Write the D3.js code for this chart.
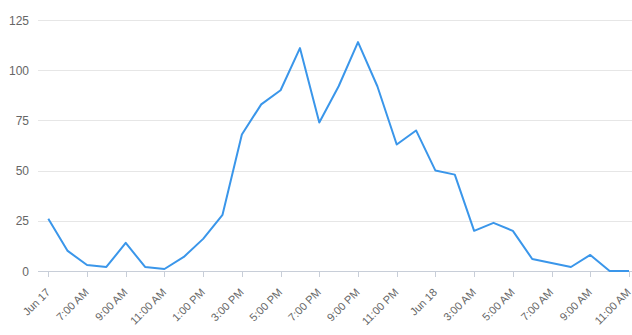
<!DOCTYPE html>
<html><head><meta charset="utf-8">
<script src="https://cdn.jsdelivr.net/npm/d3@7"></script>
<style>
html,body{margin:0;padding:0;background:#fff;}
svg{display:block;font-family:"Liberation Sans",Arial,sans-serif;}
</style></head>
<body><svg id="c" width="632" height="335"></svg>
<script>
// hourly points, Jun 17 05:00 -> Jun 18 11:00
const hours = d3.range(31);
const values = [26,10,3,2,14,2,1,7,16,28,68,83,90,111,74,92,114,92,63,70,50,48,20,24,20,6,4,2,8,0,0];
const yTicks = [0,25,50,75,100,125];
const xTickHours = [0,2,4,6,8,10,12,14,16,18,20,22,24,26,28,30];
const xTickLabels = ["Jun 17","7:00 AM","9:00 AM","11:00 AM","1:00 PM","3:00 PM","5:00 PM","7:00 PM","9:00 PM","11:00 PM","Jun 18","3:00 AM","5:00 AM","7:00 AM","9:00 AM","11:00 AM"];

const svg = d3.select("#c");
const x = d3.scaleLinear().domain([0,30]).range([48.3,629]);
const y = d3.scaleLinear().domain([0,125]).range([271,20]);
const left = 38, right = 632;

// gridlines
svg.append("g").selectAll("line").data(yTicks.filter(d=>d>0)).join("line")
  .attr("x1",left).attr("x2",right)
  .attr("y1",d=>Math.round(y(d))+0.5).attr("y2",d=>Math.round(y(d))+0.5)
  .attr("stroke","#e6e6e6").attr("stroke-width",1);

// y labels
svg.append("g").selectAll("text").data(yTicks).join("text")
  .attr("x",29).attr("y",d=>y(d)+4.5)
  .attr("text-anchor","end").attr("fill","#666").attr("font-size","12px")
  .text(d=>d);

// x axis line & ticks
svg.append("line").attr("x1",left).attr("x2",right)
  .attr("y1",271.5).attr("y2",271.5).attr("stroke","#c8ced8").attr("stroke-width",1);
const xg = svg.append("g");
xg.selectAll("line").data(xTickHours).join("line")
  .attr("x1",d=>Math.round(x(d))+0.5).attr("x2",d=>Math.round(x(d))+0.5)
  .attr("y1",271.5).attr("y2",277).attr("stroke","#c8ced8");
xg.selectAll("text").data(xTickHours).join("text")
  .attr("transform",(d)=>`translate(${x(d)+2.5},${293}) rotate(-45)`)
  .attr("text-anchor","end").attr("fill","#666").attr("font-size","11px")
  .text((d,i)=>xTickLabels[i]);

// line
const line = d3.line().x((d,i)=>x(hours[i])).y(d=>y(d));
svg.append("path").datum(values)
  .attr("d",line).attr("fill","none")
  .attr("stroke","#3a96ea").attr("stroke-width",2).attr("stroke-linejoin","round");
</script></body></html>
